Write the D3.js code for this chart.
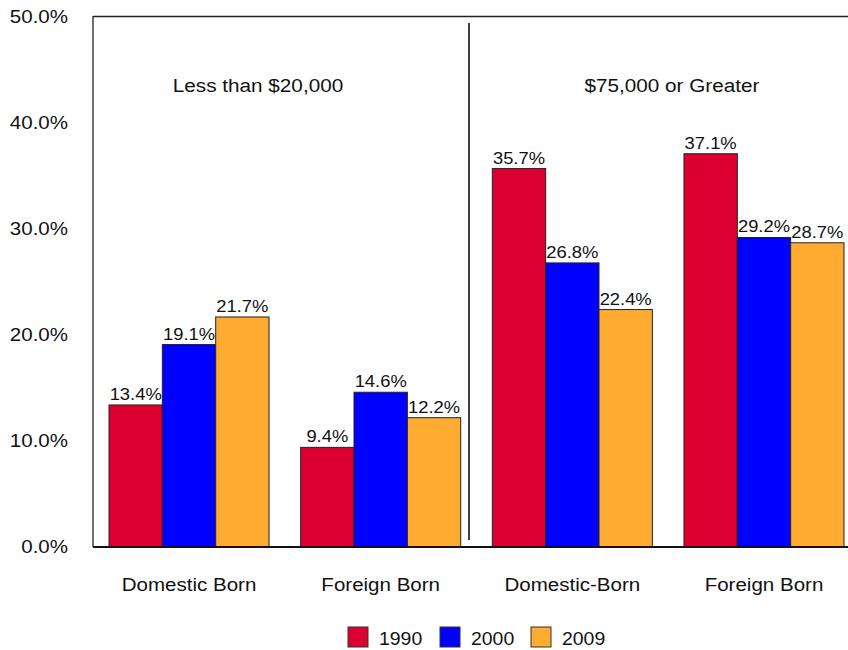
<!DOCTYPE html>
<html>
<head>
<meta charset="utf-8">
<title>Income share by nativity</title>
<script src="https://d3js.org/d3.v7.min.js"></script>
<style>
  body { margin: 0; background: #fff; }
  text { font-family: "Liberation Sans", Arial, sans-serif; fill: #111; }
</style>
</head>
<body>
<div id="chart"></div>
<script>
// data
const groups = ["Domestic Born", "Foreign Born", "Domestic-Born", "Foreign Born "];
const years = ["1990", "2000", "2009"];
const v1990 = [13.4, 9.4, 35.7, 37.1];
const v2000 = [19.1, 14.6, 26.8, 29.2];
const v2009 = [21.7, 12.2, 22.4, 28.7];
const yTicks = [0, 10, 20, 30, 40, 50];
const panelTitles = ["Less than $20,000", "$75,000 or Greater"];
const colors = ["#dc0030", "#0000ff", "#ffaa30"];

const series = [v1990, v2000, v2009];
const rows = groups.map((g, i) => ({ group: g, values: series.map((s, j) => ({ year: years[j], v: s[i] })) }));

const width = 848, height = 650;
const plotLeft = 93, plotRight = 860, plotTop = 17, plotBottom = 547;

// the original type is a little wider than Liberation Sans, so stretch it
function stretch(sel, k) {
    sel.each(function() {
        const len = this.getComputedTextLength();
        d3.select(this)
          .attr("textLength", len * k)
          .attr("lengthAdjust", "spacingAndGlyphs");
    });
}

const svg = d3.select("#chart").append("svg")
    .attr("width", width)
    .attr("height", height);

const x0 = d3.scaleBand()
    .domain(groups)
    .range([plotLeft, plotRight])
    .paddingInner(0.165)
    .paddingOuter(0.0835);

const x1 = d3.scaleBand()
    .domain(years)
    .range([0, x0.bandwidth()]);

const y = d3.scaleLinear()
    .domain([0, 50])
    .range([plotBottom, plotTop]);

// bars
const g = svg.selectAll("g.grp")
    .data(rows)
    .enter().append("g")
    .attr("class", "grp")
    .attr("transform", d => "translate(" + x0(d.group) + ",0)");

g.selectAll("rect")
    .data(d => d.values)
    .enter().append("rect")
    .attr("x", d => x1(d.year))
    .attr("y", d => y(d.v))
    .attr("width", x1.bandwidth())
    .attr("height", d => y(0) - y(d.v))
    .attr("fill", (d, i) => colors[i])
    .attr("stroke", "#222")
    .attr("stroke-width", 1);

g.selectAll("text.val")
    .data(d => d.values)
    .enter().append("text")
    .attr("class", "val")
    .attr("x", d => x1(d.year) + x1.bandwidth() / 2)
    .attr("y", d => y(d.v) - 5)
    .attr("text-anchor", "middle")
    .attr("font-size", 17)
    .text(d => d.v.toFixed(1) + "%")
    .call(stretch, 1.08);

// frame lines
svg.append("line")
    .attr("x1", plotLeft).attr("x2", width)
    .attr("y1", plotTop - 0.5).attr("y2", plotTop - 0.5)
    .attr("stroke", "#222").attr("stroke-width", 1.3);

svg.append("line")
    .attr("x1", plotLeft).attr("x2", plotLeft)
    .attr("y1", plotTop - 1).attr("y2", plotBottom)
    .attr("stroke", "#222").attr("stroke-width", 1.3);

svg.append("line")
    .attr("x1", plotLeft).attr("x2", width)
    .attr("y1", plotBottom).attr("y2", plotBottom)
    .attr("stroke", "#111").attr("stroke-width", 2);

// divider between income panels
svg.append("line")
    .attr("x1", 469).attr("x2", 469)
    .attr("y1", 23).attr("y2", 540)
    .attr("stroke", "#111").attr("stroke-width", 1.6);

// y axis labels
const yAxis = d3.axisLeft(y)
    .tickValues(yTicks)
    .tickSize(0)
    .tickPadding(25)
    .tickFormat(d => d.toFixed(1) + "%");

svg.append("g")
    .attr("transform", "translate(" + plotLeft + ",0)")
    .call(yAxis)
    .call(a => a.select(".domain").remove())
    .selectAll("text")
    .attr("font-size", 18)
    .attr("font-family", "'Liberation Sans', Arial, sans-serif")
    .attr("fill", "#111")
    .call(stretch, 1.14);

// x axis labels
const xAxis = d3.axisBottom(x0)
    .tickSize(0)
    .tickPadding(31)
    .tickFormat(d => d.trim());

svg.append("g")
    .attr("transform", "translate(0," + plotBottom + ")")
    .call(xAxis)
    .call(a => a.select(".domain").remove())
    .selectAll("text")
    .attr("font-size", 18)
    .attr("font-family", "'Liberation Sans', Arial, sans-serif")
    .attr("fill", "#111")
    .call(stretch, 1.14);

// panel titles
svg.selectAll("text.panel")
    .data(panelTitles)
    .enter().append("text")
    .attr("class", "panel")
    .attr("x", (d, i) => i === 0 ? 258 : 672)
    .attr("y", 92)
    .attr("text-anchor", "middle")
    .attr("font-size", 18)
    .text(d => d)
    .call(stretch, 1.15);

// legend
const legendX = [348, 440, 531];
const lg = svg.selectAll("g.legend")
    .data(years)
    .enter().append("g")
    .attr("class", "legend")
    .attr("transform", (d, i) => "translate(" + legendX[i] + ",627)");

lg.append("rect")
    .attr("width", 20).attr("height", 20)
    .attr("fill", (d, i) => colors[i])
    .attr("stroke", "#333");

lg.append("text")
    .attr("x", 31)
    .attr("y", 18)
    .attr("font-size", 18)
    .text(d => d)
    .call(stretch, 1.08);
</script>
</body>
</html>
